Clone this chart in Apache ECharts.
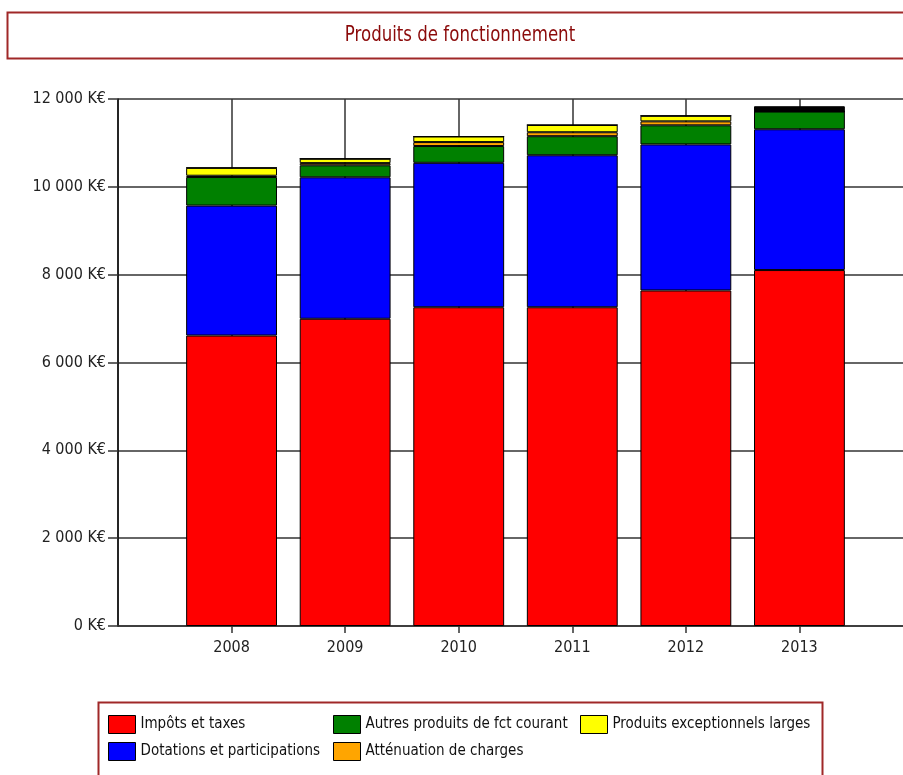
<!DOCTYPE html>
<html>
<head>
<meta charset="utf-8">
<script src="https://cdn.jsdelivr.net/npm/echarts@6/dist/echarts.min.js"></script>
<style>
html,body{margin:0;padding:0;background:#fff;}
#chart{width:903px;height:775px;}
</style>
</head>
<body>
<div id="chart"></div>
<script>
// ---- data (K€) ----
const years = ['2008', '2009', '2010', '2011', '2012', '2013'];
const impotsTaxes      = [6614, 6996, 7258, 7258, 7640, 8105];
const dotations        = [2959, 3221, 3289, 3461, 3326, 3206];
const autresProduits   = [650, 273, 382, 434, 435, 404];
const attenuation      = [30, 50, 90, 90, 90, 0];
const exceptionnels    = [180, 100, 127, 165, 127, 0];
const nonDetaille      = [0, 0, 0, 0, 0, 120];
const yTicks = [0, 2000, 4000, 6000, 8000, 10000, 12000];

const FONT = "'Liberation Sans Narrow', 'DejaVu Sans Condensed', 'Liberation Sans', sans-serif";

const chart = echarts.init(document.getElementById('chart'), null, {renderer: 'canvas'});

const cats = [''].concat(years).concat(['']);
function pad(arr) { return [null].concat(arr).concat([null]); }

function barSeries(name, arr, color) {
  return {
    name: name,
    type: 'bar',
    stack: 'total',
    barCategoryGap: '20%',
    data: pad(arr),
    itemStyle: { color: color, borderColor: '#000', borderWidth: 1 },
    emphasis: { disabled: true }
  };
}

function fmt(v) {
  return String(v).replace(/\B(?=(\d{3})+(?!\d))/g, ' ') + ' K€';
}

const legendCommon = {
  orient: 'vertical',
  icon: 'rect',
  itemWidth: 27,
  itemHeight: 18,
  itemGap: 8,
  selectedMode: false,
  itemStyle: { borderColor: '#000', borderWidth: 1 },
  textStyle: { fontFamily: FONT, fontSize: 15, color: '#111' },
  padding: 0
};

chart.setOption({
  animation: false,
  backgroundColor: '#fff',
  grid: { left: 118, top: 99, width: 795, bottom: 149, containLabel: false, outerBoundsMode: 'none' },
  graphic: [
    { type: 'rect', shape: { x: 7.5, y: 12.5, width: 920, height: 46 },
      style: { fill: 'none', stroke: '#a02828', lineWidth: 2 }, z: 10 },
    { type: 'text', x: 460, y: 35, scaleX: 0.84,
      style: { text: 'Produits de fonctionnement', fill: '#8b0a0a', font: '22px ' + FONT,
               textAlign: 'center', textVerticalAlign: 'middle' }, z: 11 },
    { type: 'rect', shape: { x: 98.5, y: 702.5, width: 724, height: 90 },
      style: { fill: 'none', stroke: '#a02828', lineWidth: 2 }, z: 10 }
  ],
  legend: [
    Object.assign({}, legendCommon, { left: 108, top: 715, data: ['Impôts et taxes', 'Dotations et participations'] }),
    Object.assign({}, legendCommon, { left: 333, top: 715, data: ['Autres produits de fct courant', 'Atténuation de charges'] }),
    Object.assign({}, legendCommon, { left: 580, top: 715, data: ['Produits exceptionnels larges'] })
  ],
  xAxis: {
    type: 'category',
    data: cats,
    boundaryGap: false,
    axisLine: { lineStyle: { color: '#333', width: 1.5 } },
    axisTick: { show: true, length: 7, interval: function (i) { return i > 0; },
                lineStyle: { color: '#333', width: 1.5 } },
    axisLabel: { fontFamily: FONT, fontSize: 16, color: '#222', margin: 14, interval: 0 },
    splitLine: { show: true, lineStyle: { color: '#333', width: 1.5 } }
  },
  yAxis: {
    type: 'value',
    min: yTicks[0],
    max: yTicks[yTicks.length - 1],
    interval: 2000,
    axisLine: { show: true, lineStyle: { color: '#111', width: 1.5 } },
    axisTick: { show: true, length: 10, lineStyle: { color: '#333', width: 1.5 } },
    axisLabel: { fontFamily: FONT, fontSize: 16, color: '#222', margin: 12, formatter: fmt },
    splitLine: { show: true, lineStyle: { color: '#333', width: 1.5 } }
  },
  series: [
    barSeries('Impôts et taxes', impotsTaxes, '#ff0000'),
    barSeries('Dotations et participations', dotations, '#0000ff'),
    barSeries('Autres produits de fct courant', autresProduits, '#008000'),
    barSeries('Atténuation de charges', attenuation, '#ffa500'),
    barSeries('Produits exceptionnels larges', exceptionnels, '#ffff00'),
    barSeries('Non détaillé', nonDetaille, '#000000')
  ]
});
</script>
</body>
</html>
